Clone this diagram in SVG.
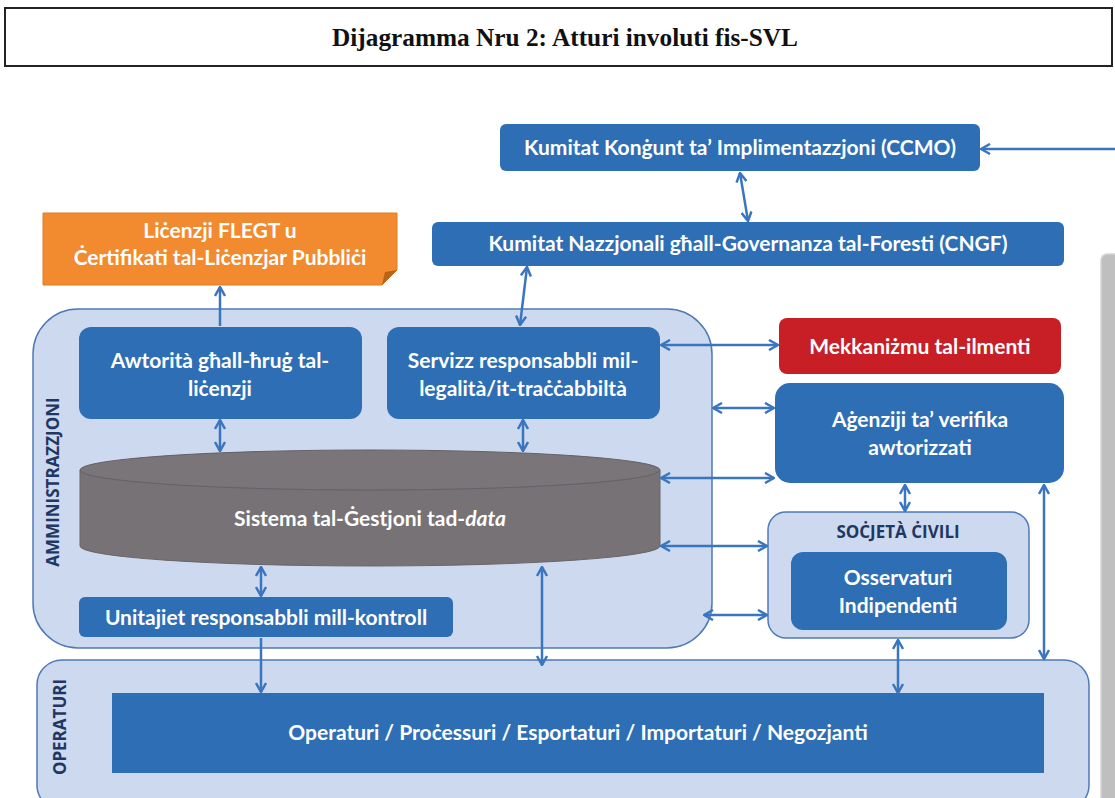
<svg xmlns="http://www.w3.org/2000/svg" width="1115" height="798" viewBox="0 0 1115 798">
<style>
.box{fill:#2e6eb5;}
.cont{fill:#cdd9ee;stroke:#4f79b8;stroke-width:1.5;}
.t{font-family:Lato,"Open Sans","Liberation Sans",sans-serif;font-weight:bold;fill:#ffffff;text-anchor:middle;font-size:21px;}
.lab{font-family:"Open Sans","Liberation Sans",sans-serif;font-weight:bold;fill:#1f3763;text-anchor:middle;font-size:17px;}
.c{stroke:#3a76bf;stroke-width:2.5;fill:none;}
.da{marker-start:url(#ah);marker-end:url(#ah);}
.sa{marker-end:url(#ah);}
</style>
<defs>
<marker id="ah" viewBox="0 0 12 12" refX="11" refY="6" markerWidth="12" markerHeight="12" markerUnits="userSpaceOnUse" orient="auto-start-reverse">
<path d="M2,1 L11,6 L2,11" fill="none" stroke="#3a76bf" stroke-width="2.5"/>
</marker>
</defs>
<rect width="1115" height="798" fill="#ffffff"/>

<g id="title">
<rect x="5" y="8" width="1107" height="58" fill="#ffffff" stroke="#222222" stroke-width="2"/>
<text x="565" y="46" font-family="'Liberation Serif',serif" font-weight="bold" font-size="25" text-anchor="middle" fill="#111111" textLength="466" lengthAdjust="spacingAndGlyphs">Dijagramma Nru 2: Atturi involuti fis-SVL</text>
</g>

<g id="side-panel">
<rect x="1101" y="254" width="30" height="560" rx="6" fill="#bfbfbf" stroke="#d6d6d6" stroke-width="1.5"/>
</g>

<g id="amministrazzjoni">
<rect class="cont" x="33" y="309" width="679" height="339" rx="45"/>
<text class="lab" transform="translate(59,482) rotate(-90)">AMMINISTRAZZJONI</text>
</g>

<g id="operaturi-container">
<rect class="cont" x="37" y="660" width="1052" height="150" rx="25"/>
<text class="lab" transform="translate(66,727) rotate(-90)">OPERATURI</text>
</g>

<g id="ccmo">
<rect class="box" x="500" y="124" width="480" height="47" rx="6"/>
<text class="t" x="740" y="155">Kumitat Konġunt ta’ Implimentazzjoni (CCMO)</text>
</g>

<g id="cngf">
<rect class="box" x="432" y="222" width="632" height="44" rx="6"/>
<text class="t" x="748" y="251">Kumitat Nazzjonali għall-Governanza tal-Foresti (CNGF)</text>
</g>

<g id="flegt">
<polygon points="43,213 397,213 397,270 382,285 43,285" fill="#f28a30" stroke="#e07a22" stroke-width="1"/>
<polygon points="382,285 385,272 397,270" fill="#b8621c"/>
<text class="t" x="220" y="238">Liċenzji FLEGT u</text>
<text class="t" x="220" y="265">Ċertifikati tal-Liċenzjar Pubbliċi</text>
</g>

<g id="awtorita">
<rect class="box" x="79" y="327" width="283" height="92" rx="12"/>
<text class="t" x="220" y="368">Awtorità għall-ħruġ tal-</text>
<text class="t" x="220" y="396">liċenzji</text>
</g>

<g id="servizz">
<rect class="box" x="387" y="327" width="273" height="92" rx="12"/>
<text class="t" x="523" y="368">Servizz responsabbli mil-</text>
<text class="t" x="523" y="396">legalità/it-traċċabbiltà</text>
</g>

<g id="sistema">
<path d="M80,470 L80,546 A290,20 0 0 0 660,546 L660,470 Z" fill="#777275" stroke="#6a6568" stroke-width="1"/>
<ellipse cx="370" cy="470" rx="290" ry="20" fill="#7a7578" stroke="#65606a" stroke-width="1"/>
<text class="t" x="370" y="526">Sistema tal-Ġestjoni tad-<tspan font-style="italic">data</tspan></text>
</g>

<g id="unitajiet">
<rect class="box" x="79" y="597" width="374" height="40" rx="6"/>
<text class="t" x="266" y="625">Unitajiet responsabbli mill-kontroll</text>
</g>

<g id="mekkanizmu">
<rect x="779" y="318" width="282" height="56" rx="8" fill="#c81e25"/>
<text class="t" x="920" y="354">Mekkaniżmu tal-ilmenti</text>
</g>

<g id="agenziji">
<rect class="box" x="775" y="383" width="289" height="100" rx="15"/>
<text class="t" x="920" y="427">Aġenziji ta’ verifika</text>
<text class="t" x="920" y="455">awtorizzati</text>
</g>

<g id="socjeta">
<rect class="cont" x="768" y="512" width="261" height="126" rx="18"/>
<text class="lab" x="898" y="538">SOĊJETÀ ĊIVILI</text>
</g>

<g id="osservaturi">
<rect class="box" x="791" y="552" width="216" height="78" rx="12"/>
<text class="t" x="898" y="585">Osservaturi</text>
<text class="t" x="898" y="613">Indipendenti</text>
</g>

<g id="operaturi">
<rect class="box" x="112" y="693" width="932" height="80"/>
<text class="t" x="578" y="740">Operaturi / Proċessuri / Esportaturi / Importaturi / Negozjanti</text>
</g>

<g id="connectors">
<line class="c sa" x1="1115" y1="149" x2="981" y2="149"/>
<line class="c da" x1="740" y1="173" x2="748" y2="221"/>
<line class="c da" x1="520" y1="325" x2="527" y2="267"/>
<line class="c sa" x1="220" y1="326" x2="220" y2="287"/>
<line class="c da" x1="220" y1="420" x2="220" y2="451"/>
<line class="c da" x1="523" y1="420" x2="523" y2="451"/>
<line class="c da" x1="661" y1="345" x2="778" y2="345"/>
<line class="c da" x1="713" y1="408" x2="774" y2="408"/>
<line class="c da" x1="661" y1="478" x2="774" y2="478"/>
<line class="c da" x1="661" y1="546" x2="767" y2="546"/>
<line class="c da" x1="704" y1="615" x2="767" y2="615"/>
<line class="c da" x1="905" y1="485" x2="905" y2="511"/>
<line class="c da" x1="1044" y1="485" x2="1044" y2="659"/>
<line class="c da" x1="898" y1="640" x2="898" y2="693"/>
<line class="c da" x1="542" y1="567" x2="542" y2="665"/>
<line class="c da" x1="261" y1="567" x2="261" y2="596"/>
<line class="c sa" x1="261" y1="638" x2="261" y2="692"/>
</g>
</svg>
